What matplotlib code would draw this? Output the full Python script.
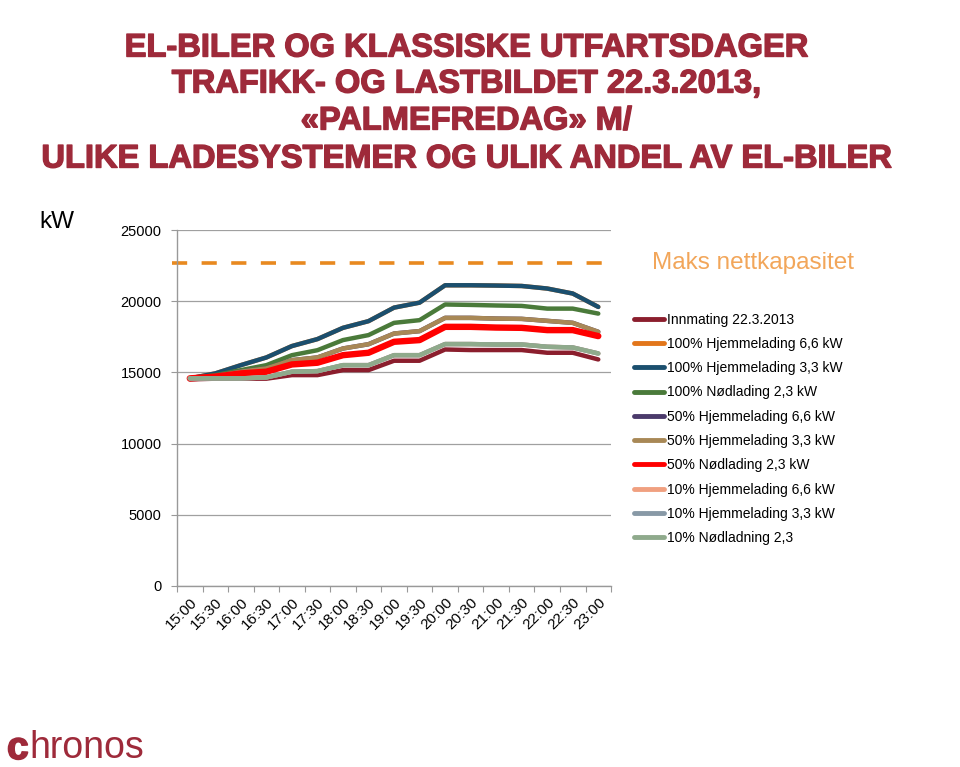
import matplotlib
matplotlib.use("Agg")
import matplotlib.pyplot as plt
import matplotlib.patheffects as pe
import numpy as np

plt.rcParams['font.family'] = ['Liberation Sans', 'DejaVu Sans']

times = ["15:00", "15:30", "16:00", "16:30", "17:00", "17:30", "18:00", "18:30",
         "19:00", "19:30", "20:00", "20:30", "21:00", "21:30", "22:00", "22:30", "23:00"]

innmating = [14510, 14560, 14560, 14560, 14810, 14810, 15160, 15160, 15820, 15820,
             16610, 16570, 16570, 16570, 16380, 16380, 15910]
h100_66 = [14580, 14930, 15510, 16050, 16850, 17340, 18130, 18600, 19550, 19900,
           21120, 21120, 21100, 21070, 20890, 20540, 19600]
h100_33 = [14580, 14930, 15510, 16050, 16850, 17340, 18130, 18600, 19550, 19900,
           21120, 21120, 21100, 21070, 20890, 20540, 19600]
n100_23 = [14580, 14810, 15160, 15510, 16210, 16560, 17270, 17620, 18480, 18670,
           19770, 19740, 19700, 19670, 19480, 19480, 19130]
h50_66 = [14580, 14740, 15050, 15280, 15860, 16050, 16680, 16980, 17730, 17900,
          18830, 18830, 18780, 18760, 18620, 18480, 17850]
h50_33 = [14580, 14740, 15050, 15280, 15860, 16050, 16680, 16980, 17730, 17900,
          18830, 18830, 18780, 18760, 18620, 18480, 17850]
n50_23 = [14580, 14700, 14930, 15050, 15560, 15680, 16210, 16380, 17150, 17270,
          18200, 18200, 18150, 18130, 17970, 17970, 17550]
h10_66 = [14580, 14580, 14580, 14650, 15050, 15090, 15510, 15510, 16210, 16210,
          16990, 16990, 16960, 16960, 16800, 16750, 16330]
h10_33 = [14580, 14580, 14580, 14650, 15050, 15090, 15510, 15510, 16210, 16210,
          16990, 16990, 16960, 16960, 16800, 16750, 16330]
n10_23 = [14580, 14580, 14580, 14650, 15050, 15090, 15510, 15510, 16210, 16210,
          16990, 16990, 16960, 16960, 16800, 16750, 16330]

series_names = ["Innmating 22.3.2013", "100% Hjemmelading 6,6 kW", "100% Hjemmelading 3,3 kW",
                "100% Nødlading 2,3 kW", "50% Hjemmelading 6,6 kW", "50% Hjemmelading 3,3 kW",
                "50% Nødlading 2,3 kW", "10% Hjemmelading 6,6 kW", "10% Hjemmelading 3,3 kW",
                "10% Nødladning 2,3"]
series_values = [innmating, h100_66, h100_33, n100_23, h50_66, h50_33, n50_23,
                 h10_66, h10_33, n10_23]
colors = ["#8B1E2D", "#E2761B", "#1B4F6E", "#4A7A3A", "#4B3A6B", "#A88856",
          "#FF0000", "#F0A080", "#8899A6", "#8FAA8C"]
widths = [3.2, 3.2, 3.2, 3.2, 3.2, 3.2, 4.6, 3.2, 3.2, 3.2]

max_capacity = 22700
yticks = [0, 5000, 10000, 15000, 20000, 25000]

fig = plt.figure(figsize=(9.6, 7.67), dpi=100)
ax = fig.add_axes([0.1844, 0.2360, 0.6365 - 0.1844, 0.7001 - 0.2360])

x = np.arange(len(times)) + 0.5
lines = []
for name, vals, c, w in zip(series_names, series_values, colors, widths):
    ln, = ax.plot(x, vals, color=c, lw=w, label=name, solid_capstyle='round',
                  solid_joinstyle='round')
    lines.append(ln)

ax.plot([-0.2, len(times) + 0.15], [max_capacity, max_capacity], color="#E8891F",
        lw=2.6, dashes=(4.2, 4.0), clip_on=False, zorder=1)
fig.text(652 / 960, 1 - 263 / 767, "Maks nettkapasitet", color="#F2A65A",
         fontsize=17.5, va='center', ha='left')

ax.set_xlim(0, len(times))
ax.set_ylim(0, 25000)
ax.set_yticks(yticks)
ax.set_yticklabels([str(v) for v in yticks], fontsize=10.5)
ax.set_xticks(np.arange(len(times) + 1), minor=False)
ax.set_xticklabels([])
ax.set_xticks(x, minor=True)
ax.set_xticklabels(times, minor=True, rotation=45, fontsize=11, ha='right',
                   rotation_mode='anchor')
ax.tick_params(axis='x', which='minor', length=0, pad=7)
ax.tick_params(axis='x', which='major', length=4, color='#999999', direction='out')
ax.tick_params(axis='y', length=4, color='#999999', direction='out', pad=7)
ax.grid(axis='y', color='#A0A0A0', lw=0.9)
ax.set_axisbelow(True)
for s in ['top', 'right']:
    ax.spines[s].set_visible(False)
for s in ['left', 'bottom']:
    ax.spines[s].set_color('#999999')
    ax.spines[s].set_linewidth(1.0)

leg = fig.legend(handles=lines, loc='upper left', bbox_to_anchor=(628 / 960, 1 - 307 / 767),
                 frameon=False, fontsize=10, handlelength=2.2, handletextpad=0.2,
                 labelspacing=0.74, borderaxespad=0)
for h in leg.legend_handles:
    h.set_linewidth(3.5)

fig.text(39 / 960, 1 - 222 / 767, "kW", fontsize=17.5, va='center', ha='left')

title_color = "#9E2A3A"
title_lines = ["EL-BILER OG KLASSISKE UTFARTSDAGER",
               "TRAFIKK- OG LASTBILDET 22.3.2013,",
               "«PALMEFREDAG» M/",
               "ULIKE LADESYSTEMER OG ULIK ANDEL AV EL-BILER"]
title_y = [48, 84, 121, 159]
for t, yy in zip(title_lines, title_y):
    fig.text(466 / 960, 1 - yy / 767, t, fontsize=23.5, fontweight='bold',
             color=title_color, ha='center', va='center',
             path_effects=[pe.withStroke(linewidth=1.0, foreground=title_color)])

fig.text(7 / 960, 1 - 749 / 767, "c", fontsize=28, fontweight='bold',
         color="#9E2A3A", ha='left', va='center',
         path_effects=[pe.withStroke(linewidth=1.2, foreground="#9E2A3A")])
fig.text(29 / 960, 1 - 748 / 767, "hronos", fontsize=27, color="#9E2A3A",
         ha='left', va='center')

fig.savefig("out.png", dpi=100)
